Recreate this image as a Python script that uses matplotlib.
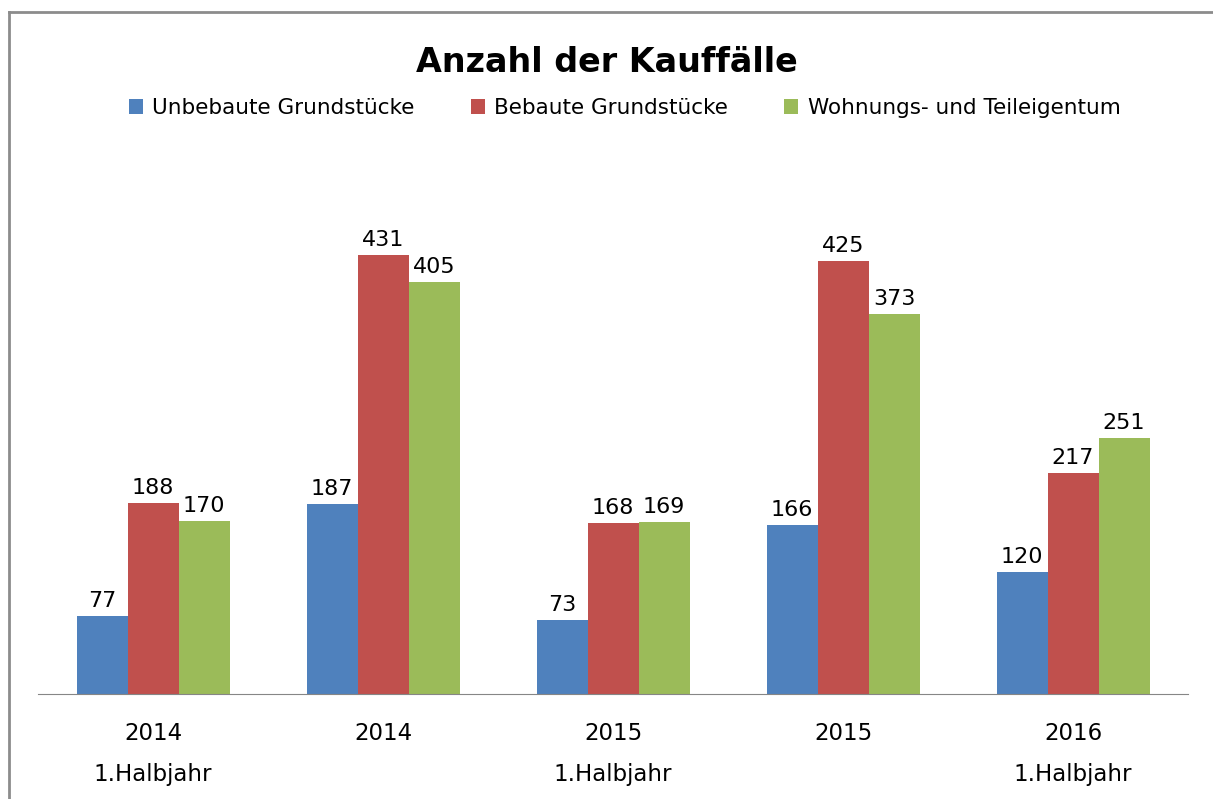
import numpy as np
import matplotlib.pyplot as plt
from matplotlib.lines import Line2D

kategorien = ['2014\n1.Halbjahr', '2014', '2015\n1.Halbjahr', '2015', '2016\n1.Halbjahr']
serien = ['Unbebaute Grundstücke', 'Bebaute Grundstücke', 'Wohnungs- und Teileigentum']
unbebaut = [77, 187, 73, 166, 120]
bebaut = [188, 431, 168, 425, 217]
wohnung = [170, 405, 169, 373, 251]
farben = ['#4F81BD', '#C0504D', '#9BBB59']

plt.rcParams['font.family'] = ['DejaVu Sans']

fig = plt.figure(figsize=(12.13, 7.99), dpi=100)
ax = fig.add_axes([38 / 1213, 105 / 799, 1150 / 1213, 509 / 799])

x = np.arange(len(kategorien))
breite = 51 / 230
for i, (werte, name) in enumerate(zip([unbebaut, bebaut, wohnung], serien)):
    pos = x + (i - 1) * breite
    balken = ax.bar(pos, werte, breite, color=farben[i], label=name)
    for b, v in zip(balken, werte):
        ax.text(b.get_x() + b.get_width() / 2, v + 5, str(v),
                ha='center', va='bottom', fontsize=16)

ax.set_xlim(-0.5, len(kategorien) - 0.5)
ax.set_ylim(0, 500)
ax.set_yticks([])
ax.set_xticks(x)
ax.set_xticklabels(kategorien, fontsize=16.5, linespacing=2.0)
ax.tick_params(axis='x', length=0, pad=20)
for s in ['top', 'right', 'left']:
    ax.spines[s].set_visible(False)
ax.spines['bottom'].set_color('#868686')

fig.text(0.5, 1 - 62 / 799, 'Anzahl der Kauffälle', ha='center', va='center',
         fontsize=24, fontweight='bold')
fig.legend(loc='center', bbox_to_anchor=(0.515, 1 - 108 / 799), ncol=3,
           frameon=False, fontsize=15.5, handlelength=0.65, handleheight=0.65,
           handletextpad=0.45, columnspacing=2.6)

# Rahmen oben und links
fig.add_artist(Line2D([9 / 1213, 9 / 1213], [0, 1 - 12 / 799], color='#8c8c8c', lw=2))
fig.add_artist(Line2D([9 / 1213, 1], [1 - 12 / 799, 1 - 12 / 799], color='#8c8c8c', lw=2))

plt.savefig('out.png', dpi=100)
